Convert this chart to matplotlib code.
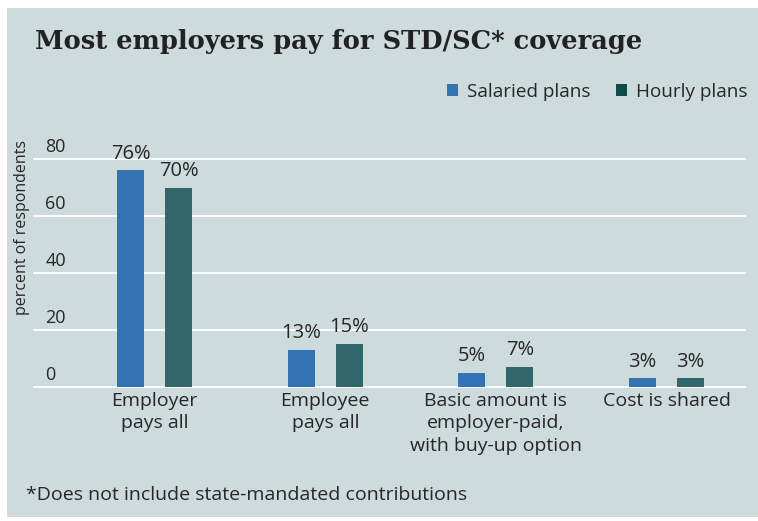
import matplotlib.pyplot as plt
from matplotlib.patches import Rectangle, Patch
import numpy as np

categories = ['Employer\npays all', 'Employee\npays all',
              'Basic amount is\nemployer-paid,\nwith buy-up option', 'Cost is shared']
salaried = [76, 13, 5, 3]
hourly = [70, 15, 7, 3]
yticks = [0, 20, 40, 60, 80]

BG = '#cddbdc'
SAL = '#3274b3'
HOUR = '#31676b'
HOUR_KEY = '#0f4b4c'
TXT = '#262626'
SANS = 'Open Sans'

fig = plt.figure(figsize=(7.58, 5.21), dpi=100)
fig.patch.set_facecolor('white')

# panel background
fig.patches.append(Rectangle((7 / 758, 0.008), 751 / 758, 0.977, transform=fig.transFigure,
                             facecolor=BG, edgecolor='none', zorder=-5))

# axes: x 34..745 px, y(0)=387 px, y(80)=159 px
x0, x1 = 34 / 758, 745 / 758
ybot = 1 - 387 / 521
ytop = 1 - 159 / 521
ax = fig.add_axes([x0, ybot, x1 - x0, ytop - ybot])
ax.set_facecolor('none')
ax.set_ylim(0, 80)
ax.set_xlim(-0.707, 3.46)
for s in ax.spines.values():
    s.set_visible(False)
ax.set_xticks([])
ax.set_yticks([])

for t in yticks:
    ax.axhline(t, color='white', lw=1.3, zorder=1, clip_on=False)
    ax.text(-0.64, t + 1.2, str(t), ha='left', va='bottom', fontsize=13,
            family=SANS, color=TXT)

x = np.arange(len(categories))
w = 0.158
off = 0.141
b1 = ax.bar(x - off, salaried, w, color=SAL, zorder=2)
b2 = ax.bar(x + off, hourly, w, color=HOUR, zorder=2)

for bars, vals in ((b1, salaried), (b2, hourly)):
    for b, v in zip(bars, vals):
        ax.text(b.get_x() + b.get_width() / 2, v + 2.4, f'{v}%', ha='center', va='bottom',
                fontsize=14.5, family=SANS, color=TXT, clip_on=False)

for xi, c in zip(x, categories):
    ax.text(xi, -1.6, c, ha='center', va='top', fontsize=14, family=SANS, color=TXT,
            linespacing=1.35)

fig.text(22 / 758, 1 - 228 / 521, 'percent of respondents', rotation=90, ha='center',
         va='center', fontsize=11.5, family=SANS, color=TXT)

fig.text(35 / 758, 1 - 42 / 521, 'Most employers pay for STD/SC* coverage', ha='left',
         va='center', fontsize=18.5, family='DejaVu Serif', fontweight='bold', color='#222222')

handles = [Patch(facecolor=SAL), Patch(facecolor=HOUR_KEY)]
fig.legend(handles, ['Salaried plans', 'Hourly plans'], loc='center right',
           bbox_to_anchor=(764 / 758, 1 - 92 / 521), ncol=2, frameon=False,
           prop={'family': SANS, 'size': 13.6}, handlelength=0.6, handleheight=0.6,
           handletextpad=0.45, columnspacing=1.35, labelcolor=TXT)

fig.text(26 / 758, 1 - 495 / 521, '*Does not include state-mandated contributions',
         ha='left', va='center', fontsize=14, family=SANS, color=TXT)

plt.savefig('out.png', dpi=100, facecolor='white')
